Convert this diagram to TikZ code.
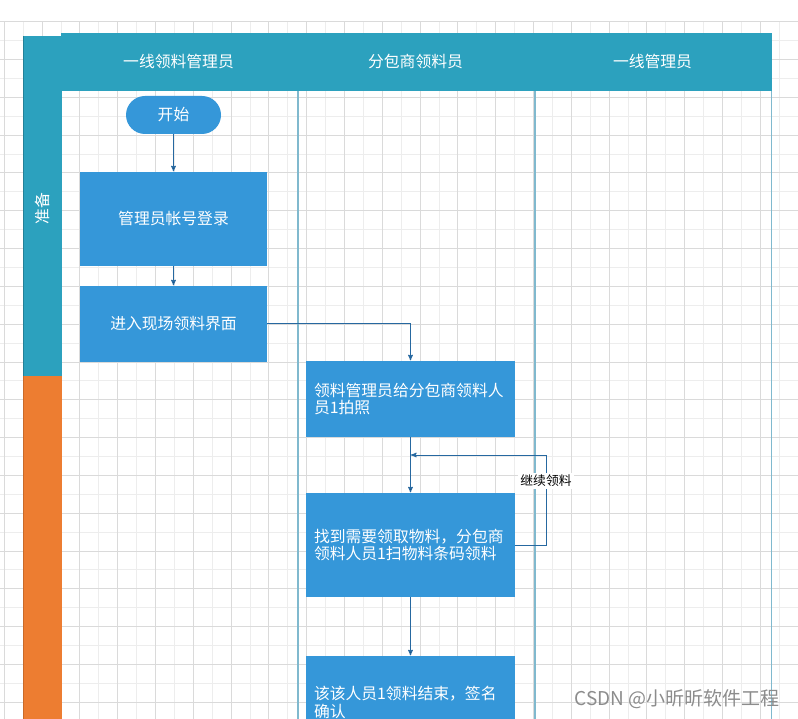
\documentclass[tikz,border=0pt]{standalone}
\usepackage{fontspec}
\newfontfamily\cjk{Noto Sans CJK SC}
\usetikzlibrary{arrows,positioning}

\definecolor{laneteal}{RGB}{44,161,190}
\definecolor{laneorange}{RGB}{237,125,49}
\definecolor{boxblue}{RGB}{53,151,217}
\definecolor{divline}{RGB}{128,185,206}
\definecolor{flowblue}{RGB}{38,104,160}
\definecolor{gridmajor}{RGB}{218,218,218}
\definecolor{gridminor}{RGB}{237,237,237}

\begin{document}
\begin{tikzpicture}[x=1pt,y=-1pt,>=stealth',
        flow text/.style={font=\cjk\fontsize{15.8}{17.5}\selectfont},
        flow node/.style={rectangle,fill=boxblue,text=white,flow text,
            minimum width=187pt,align=center,inner sep=0pt},
        wide node/.style={rectangle,fill=boxblue,text=white,flow text,
            text width=193pt,align=left,inner xsep=8pt,inner ysep=0pt},
        start node/.style={rectangle,rounded corners=19pt,fill=boxblue,
            text=white,flow text,minimum width=95pt,minimum height=38pt},
        lane title/.style={text=white,flow text},
        flow/.style={draw=flowblue,line width=1pt,shorten >=0.5pt},
        loop label/.style={fill=white,text=black,inner sep=2pt,
            font=\cjk\fontsize{12.8}{14}\selectfont}]
        \useasboundingbox (0,0) rectangle (798,719);
        \fill[white] (0,0) rectangle (798,719);
        % grid
        \foreach \i in {0,...,20} \draw[gridminor,line width=0.8pt] ({23.1+37.8*\i},21.7) -- ({23.1+37.8*\i},719);
        \foreach \i in {0,...,18} \draw[gridminor,line width=0.8pt] (0,{40.6+37.8*\i}) -- (798,{40.6+37.8*\i});
        \foreach \i in {0,...,21} \draw[gridmajor,line width=0.8pt] ({4.2+37.8*\i},21.7) -- ({4.2+37.8*\i},719);
        \foreach \i in {0,...,18} \draw[gridmajor,line width=0.8pt] (0,{21.7+37.8*\i}) -- (798,{21.7+37.8*\i});
        % lanes
        \fill[laneteal] (61,33) rectangle (772,91);
        \fill[laneteal] (23,36) rectangle (61.5,376);
        \fill[laneorange] (23,376) rectangle (61.5,719);
        \draw[laneteal!80!black,line width=0.6pt] (23.3,36) -- (23.3,376);
        \draw[laneorange!85!black,line width=0.6pt] (23.3,376) -- (23.3,719);
        \draw[divline,line width=1.6pt] (298,91) -- (298,719);
        \draw[divline,line width=1.6pt] (535,91) -- (535,719);
        \draw[divline,line width=1pt] (771.7,91) -- (771.7,719);
        \node[lane title] (lane1) at (178.5,61) {一线领料管理员};
        \node[lane title] (lane2) at (415.5,61) {分包商领料员};
        \node[lane title] (lane3) at (652.5,61) {一线管理员};
        \node[lane title,rotate=90] (prep) at (42,209) {准备};
        % steps
        \node[start node] (start) at (173.5,115) {开始};
        \node[flow node,minimum height=94pt] (login) at (173.5,219) {管理员帐号登录};
        \node[flow node,minimum height=76pt] (enter) at (173.5,324) {进入现场领料界面};
        \node[wide node,minimum height=76pt] (photo) at (410.5,399) {领料管理员给分包商领料人\\员1拍照};
        \node[wide node,minimum height=104pt] (scan) at (410.5,545) {找到需要领取物料，分包商\\领料人员1扫物料条码领料};
        \node[wide node,minimum height=93pt] (finish) at (410.5,702.5) {该该人员1领料结束，签名\\确认};
        \coordinate (loop top) at (546,455);
        \coordinate (loop in) at (410.5,455);
        \path[flow]
        (start) edge[->] (login)
        (login) edge[->] (enter)
        (photo) edge[->] (scan)
        (scan) edge[->] (finish)
        ;
        \draw[flow,->] (enter.east) -| (photo.north);
        \draw[flow,->] (scan.east) -| (loop top) -- (loop in);
        \node[loop label] (again) at (546,481) {继续领料};
        \node[text=black!45,font=\cjk\fontsize{19}{21}\selectfont] (mark) at (677,699) {CSDN @小昕昕软件工程};
        \end{tikzpicture}
\end{document}
